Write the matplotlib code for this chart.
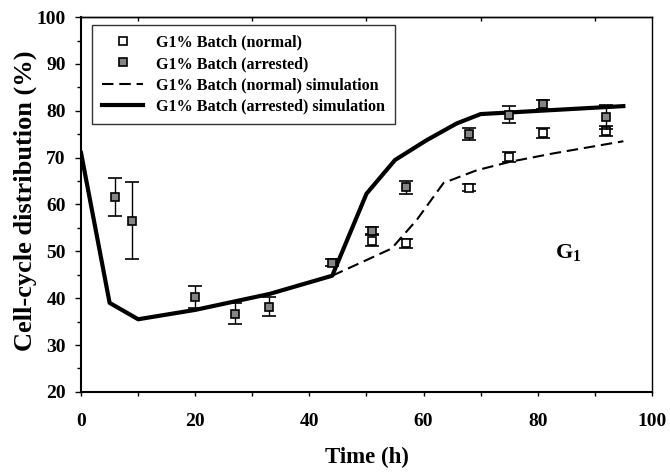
import matplotlib
matplotlib.use('Agg')
import matplotlib.pyplot as plt
from matplotlib.lines import Line2D
import numpy as np

# data
t_arrest = [6, 9, 20, 27, 33, 44, 51, 57, 68, 75, 81, 92]
g1_arrest = [61.6, 56.5, 40.2, 36.7, 38.2, 47.6, 54.4, 63.7, 75.0, 79.2, 81.4, 78.7]
err_arrest = [4.0, 8.2, 2.3, 2.2, 2.1, 0.8, 0.8, 1.4, 1.3, 1.8, 1.0, 2.6]

t_normal = [51, 57, 68, 75, 81, 92]
g1_normal = [52.3, 51.7, 63.6, 70.1, 75.2, 75.7]
err_normal = [1.1, 0.9, 0.7, 1.1, 1.1, 1.0]

t_sim_arrest = [0, 5, 10, 20, 33, 44, 50, 55, 60.5, 65.8, 70, 95]
g1_sim_arrest = [71.0, 39.0, 35.5, 37.5, 40.9, 44.8, 62.3, 69.5, 73.7, 77.3, 79.3, 81.0]

t_sim_normal = [44, 49.4, 54.4, 58.8, 63.5, 69.3, 75.1, 82.7, 95]
g1_sim_normal = [44.8, 47.8, 50.6, 56.7, 64.6, 67.3, 69.1, 70.9, 73.5]

plt.rcParams['font.family'] = ['Liberation Serif', 'DejaVu Serif']
plt.rcParams['font.weight'] = 'bold'
plt.rcParams['mathtext.fontset'] = 'custom'
plt.rcParams['mathtext.rm'] = 'Liberation Serif:bold'
plt.rcParams['mathtext.bf'] = 'Liberation Serif:bold'

dash = (0, (5.5, 2.8))

fig = plt.figure(figsize=(6.7, 4.75), dpi=100)
ax = fig.add_axes([0.121, 0.175, 0.852, 0.789])

ax.plot(t_sim_normal, g1_sim_normal, color='black', lw=1.5, ls=dash, zorder=2)
ax.plot(t_sim_arrest, g1_sim_arrest, color='black', lw=3, zorder=2)

ax.errorbar(t_normal, g1_normal, yerr=err_normal, fmt='s', ms=6, mfc='white', mec='black',
            mew=1.2, ecolor='black', elinewidth=1, capsize=5, capthick=1, zorder=3)
ax.errorbar(t_arrest, g1_arrest, yerr=err_arrest, fmt='s', ms=6, mfc='#858585', mec='black',
            mew=1.2, ecolor='black', elinewidth=1, capsize=5, capthick=1, zorder=4)

ax.set_xlim(0, 100)
ax.set_ylim(20, 100)
ax.set_xticks(np.arange(0, 101, 20))
ax.set_xticks(np.arange(0, 101, 10), minor=True)
ax.set_yticks(np.arange(20, 101, 10))
ax.set_yticks(np.arange(20, 101, 5), minor=True)
ax.tick_params(axis='x', which='both', direction='out', length=3, width=1, labelsize=14, pad=12)
ax.tick_params(axis='y', which='major', direction='out', length=4, width=1, labelsize=14, pad=7)
ax.tick_params(axis='y', which='minor', direction='out', length=3, width=1)
for lab in ax.get_xticklabels() + ax.get_yticklabels():
    lab.set_fontweight('bold')
for sp in ['left', 'bottom']:
    ax.spines[sp].set_linewidth(1.5)
for sp in ['top', 'right']:
    ax.spines[sp].set_linewidth(1)

# small inward ticks on the top frame
top = ax.secondary_xaxis('top')
top.set_xticks([10, 30, 50, 70, 90])
top.tick_params(direction='in', length=3, width=1, labeltop=False)
top.spines['top'].set_linewidth(1)

ax.set_xlabel('Time (h)', fontsize=16.5, fontweight='bold', va='top')
ax.xaxis.set_label_coords(0.5, -0.146)
ax.set_ylabel('Cell-cycle distribution (%)', fontsize=19, fontweight='bold')
ax.yaxis.set_label_coords(-0.077, 0.51)

ax.text(85.3, 49.6, r'G$_\mathbf{1}$', fontsize=16, fontweight='bold', ha='center', va='center')

handles = [
    Line2D([], [], ls='none', marker='s', ms=6, mfc='white', mec='black', mew=1.2),
    Line2D([], [], ls='none', marker='s', ms=6, mfc='#858585', mec='black', mew=1.2),
    Line2D([], [], color='black', lw=1.5, ls=dash),
    Line2D([], [], color='black', lw=3),
]
labels = ['G1% Batch (normal)', 'G1% Batch (arrested)',
          'G1% Batch (normal) simulation', 'G1% Batch (arrested) simulation']
leg = ax.legend(handles, labels, loc='upper left', bbox_to_anchor=(0.019, 0.979),
                borderaxespad=0, fancybox=False, edgecolor='black', handlelength=2.6,
                labelspacing=0.33, borderpad=0.6, prop={'weight': 'bold', 'size': 11.6})
leg.get_frame().set_linewidth(1)

plt.savefig('out.png', dpi=100)
